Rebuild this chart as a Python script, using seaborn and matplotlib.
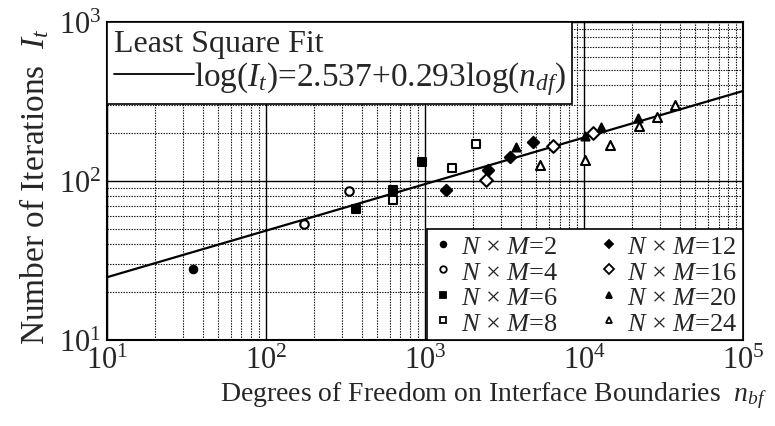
import numpy as np
import pandas as pd
import matplotlib
matplotlib.use("Agg")
import matplotlib.pyplot as plt
from matplotlib.lines import Line2D
import seaborn as sns

# Iteration counts versus interface degrees of freedom, one group per N x M
groups = ["2", "4", "6", "8", "12", "16", "20", "24"]
nbf_2 = [35]
it_2 = [28]
nbf_4 = [174, 331]
it_4 = [54, 86]
nbf_6 = [366, 626, 957]
it_6 = [67, 88, 131]
nbf_8 = [632, 1486, 2084]
it_8 = [76, 121, 170]
nbf_12 = [1355, 2489, 3428, 4800]
it_12 = [88, 118, 142, 177]
nbf_16 = [2410, 6325, 11350]
it_16 = [102, 167, 201]
nbf_20 = [3732, 10050, 12740, 21880]
it_20 = [164, 193, 218, 250]
nbf_24 = [5284, 10140, 14590, 22180, 28500, 37330]
it_24 = [127, 135, 168, 221, 253, 300]

# Least square fit in natural log: ln(I) = a + b ln(n)
fit_a = 2.537
fit_b = 0.293
fit_range = [10, 1e5]

nbf = [nbf_2, nbf_4, nbf_6, nbf_8, nbf_12, nbf_16, nbf_20, nbf_24]
its = [it_2, it_4, it_6, it_8, it_12, it_16, it_20, it_24]

sns.set_style("white")
plt.rcParams["font.family"] = ["Liberation Serif", "DejaVu Serif"]
plt.rcParams["mathtext.fontset"] = "custom"
plt.rcParams["mathtext.rm"] = "Liberation Serif"
plt.rcParams["mathtext.it"] = "Liberation Serif:italic"
plt.rcParams["mathtext.bf"] = "Liberation Serif:bold"

styles = {
    "2": dict(marker="o", face="black", size=7.5),
    "4": dict(marker="o", face="white", size=8.5),
    "6": dict(marker="s", face="black", size=9),
    "8": dict(marker="s", face="white", size=9),
    "12": dict(marker="D", face="black", size=8),
    "16": dict(marker="D", face="white", size=9),
    "20": dict(marker="^", face="black", size=8),
    "24": dict(marker="^", face="white", size=9),
}

fig = plt.figure(figsize=(7.75, 4.27), dpi=100)
ax = fig.add_axes([0.138, 0.2014, 0.821, 0.7446])
ax.set_xscale("log")
ax.set_yscale("log")
ax.set_xlim(10, 1e5)
ax.set_ylim(10, 1e3)

# Grid: solid at decades, dotted in between
ax.grid(True, which="major", color="black", linestyle="-", linewidth=1.0)
ax.grid(True, which="minor", color="black", linestyle=(0, (1.2, 1.2)), linewidth=0.8)
ax.set_axisbelow(True)

# Fit line
xs = np.geomspace(fit_range[0], fit_range[1], 50)
fit_df = pd.DataFrame({"n": xs, "I": np.exp(fit_a) * xs ** fit_b})
sns.lineplot(data=fit_df, x="n", y="I", color="black", linewidth=1.6, ax=ax, zorder=3)

for g, xv, yv in zip(groups, nbf, its):
    st = styles[g]
    df = pd.DataFrame({"n": xv, "I": yv})
    sns.scatterplot(data=df, x="n", y="I", marker=st["marker"], s=(st["size"] / 1.39) ** 2,
                    color=st["face"], edgecolor="black", linewidth=1.5, ax=ax, zorder=4)

for sp in ax.spines.values():
    sp.set_color("black")
    sp.set_linewidth(1.5)

ax.tick_params(which="both", length=0, labelsize=22, pad=4)
ax.set_ylabel(r"Number of Iterations  $I_t$", fontsize=24)
ax.yaxis.set_label_coords(-0.088, 0.485)
ax.set_xlabel(r"Degrees of Freedom on Interface Boundaries  $n_{bf}$", fontsize=20)
ax.xaxis.set_label_coords(0.607, -0.125)

# Legend for the fit
fit_handle = Line2D([0], [0], color="black", linewidth=1.3)
leg1 = ax.legend([fit_handle], [r"$\log(I_t)$=2.537+0.293$\log(n_{df})$"],
                 title="Least Square Fit", title_fontsize=23, fontsize=24,
                 loc="upper left", bbox_to_anchor=(0, 1), borderaxespad=0,
                 handlelength=2.4, handletextpad=0.0, borderpad=0.2,
                 labelspacing=0.05, fancybox=False, framealpha=1, edgecolor="black")
leg1._legend_box.align = "left"
leg1.get_frame().set_linewidth(1.2)
ax.add_artist(leg1)

# Legend for the groups
handles = []
labels = []
for g in groups:
    st = styles[g]
    handles.append(Line2D([0], [0], linestyle="none", marker=st["marker"],
                          markerfacecolor=st["face"], markeredgecolor="black",
                          markeredgewidth=1.3, markersize=st["size"] * 0.55))
    labels.append(r"$N$ " + "\u00d7" + r" $M$=" + g)
leg2 = ax.legend(handles, labels, ncol=2, fontsize=19, loc="lower right",
                 bbox_to_anchor=(1, 0), borderaxespad=0, handlelength=0.8,
                 handletextpad=0.3, columnspacing=1.5, labelspacing=0.08,
                 borderpad=0.2, fancybox=False, framealpha=1, edgecolor="black")
leg2.get_frame().set_linewidth(1.2)

fig.savefig("out.png", dpi=100)
